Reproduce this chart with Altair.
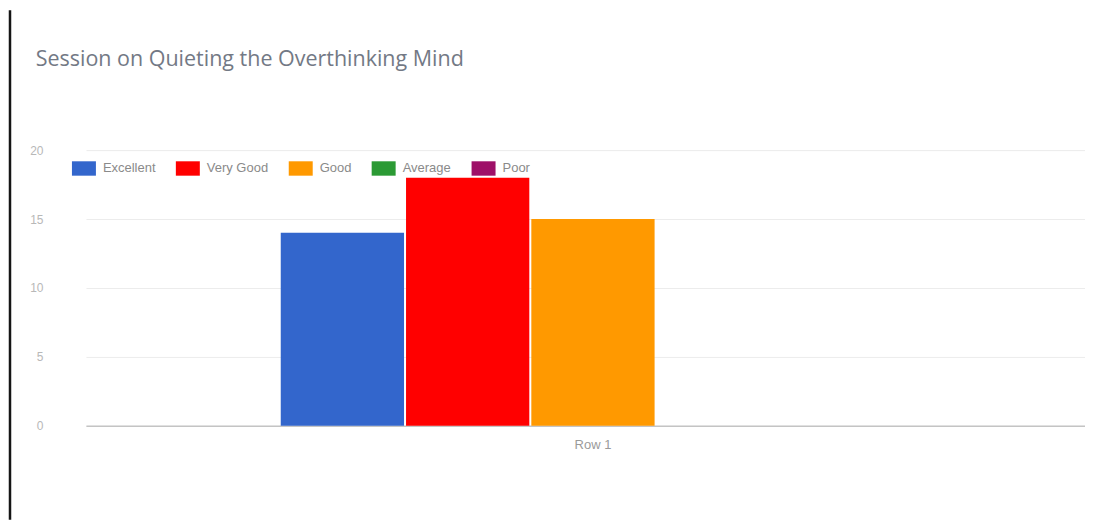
import altair as alt
import pandas as pd

ratings = ["Excellent", "Very Good", "Good", "Average", "Poor"]
counts = [14, 18, 15, 0, 0]
colors = ["#3366cc", "#ff0000", "#ff9900", "#2b9a34", "#9e1068"]
row_label = "Row 1"
y_ticks = [0, 5, 10, 15, 20]
title_text = "Session on Quieting the Overthinking Mind"

df = pd.DataFrame({"row": [row_label] * len(ratings), "rating": ratings, "count": counts})

bars = alt.Chart(df).mark_bar().encode(
    x=alt.X(
        "row:N",
        scale=alt.Scale(paddingInner=0, paddingOuter=0.3, align=0.52),
        axis=alt.Axis(title=None, labelAngle=0, ticks=False, domain=True,
                      domainColor="#c4c4c4", domainWidth=1.5, labelPadding=13,
                      labelColor="#9a9a9a", labelFontSize=13, labelFont="Arial"),
    ),
    xOffset=alt.XOffset("rating:N", sort=ratings, scale=alt.Scale(paddingInner=0.016)),
    y=alt.Y(
        "count:Q",
        scale=alt.Scale(domain=[0, 20]),
        axis=alt.Axis(values=y_ticks, title=None, domain=False, ticks=False,
                      labelPadding=43, gridColor="#ececec", labelColor="#b8b8b8",
                      labelFontSize=12, labelFont="Arial"),
    ),
    color=alt.Color(
        "rating:N",
        sort=ratings,
        scale=alt.Scale(domain=ratings, range=colors),
        legend=alt.Legend(
            title=None, orient="none", legendX=-14, legendY=6,
            direction="horizontal", columns=5, padding=0,
            symbolType="M-1,-0.6H1V0.6H-1Z", symbolSize=576,
            symbolStrokeWidth=0, symbolOpacity=1,
            labelFontSize=13, labelFont="Arial", labelColor="#8a8a8a",
            labelOffset=7, columnPadding=20,
        ),
    ),
)

edge = alt.Chart(pd.DataFrame({"a": [0]})).mark_rule(color="#151515", strokeWidth=2.5).encode(
    x=alt.value(-76), y=alt.value(-140), y2=alt.value(370)
)

chart = alt.layer(bars, edge).properties(
    width=1000,
    height=276,
    padding={"left": 0, "top": 0, "right": 0, "bottom": 0},
    title=alt.TitleParams(title_text, anchor="start", frame="bounds", fontSize=21.5,
                          font="Open Sans", fontWeight="normal", color="#737985",
                          offset=0, dy=62, dx=27),
    background="white",
).configure_view(strokeWidth=0)

chart.save("out.html", embed_options={"renderer": "svg", "actions": False})
